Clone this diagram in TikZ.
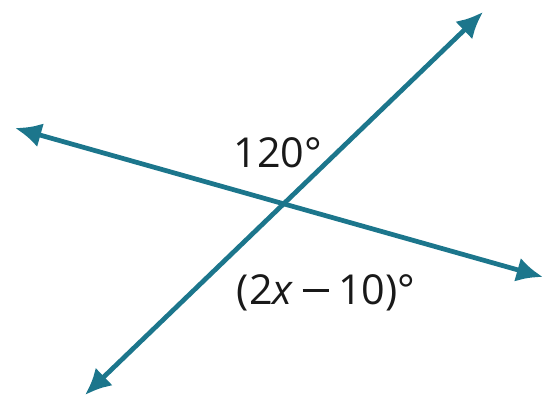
\documentclass[tikz,border=0pt]{standalone}
\usepackage{fontspec}
\setmainfont{Open Sans}
\usetikzlibrary{arrows.meta}
\definecolor{lineteal}{RGB}{28,118,140}
\newcommand{\longminus}{\hspace{0.22em}\rule[0.3em]{0.64em}{0.075em}\hspace{0.22em}}

\begin{document}
\begin{tikzpicture}[
  x=0.02cm, y=-0.02cm,
  line/.style={draw=lineteal, line width=2.7pt, {Latex[length=15pt,width=14pt]}-{Latex[length=15pt,width=14pt]}},
  lbl/.style={font=\fontsize{23.5}{27}\selectfont, text=black!90, inner sep=0pt}
]
\useasboundingbox (0,0) rectangle (548,402);

\coordinate (westend) at (15,128);
\coordinate (eastend) at (543,277);
\coordinate (southend) at (85,395);
\coordinate (northend) at (483,12);

\draw[line] (westend) -- (eastend);
\draw[line] (southend) -- (northend);

\node[lbl] (top) at (278,153) {120°};
\node[lbl] (bottom) at (326,293) {(2\textit{x}\longminus10)°};

\end{tikzpicture}
\end{document}
